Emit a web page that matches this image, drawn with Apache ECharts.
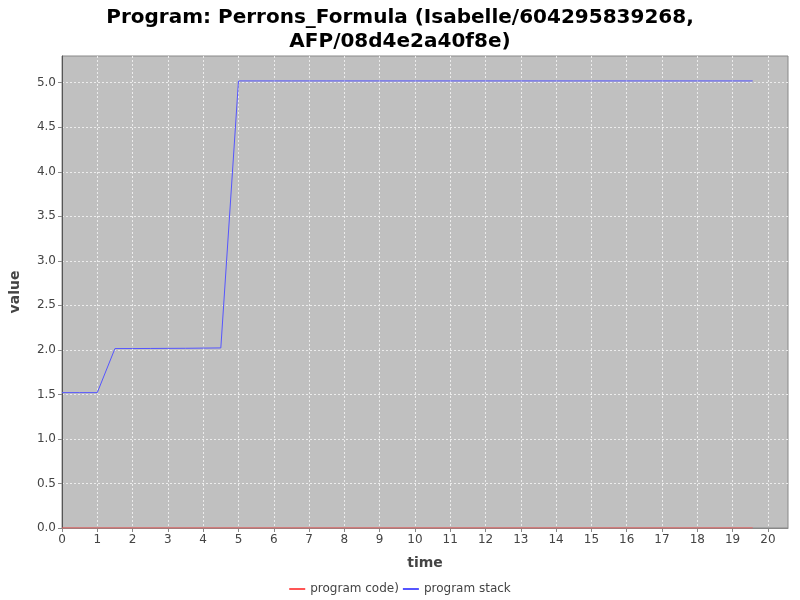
<!DOCTYPE html>
<html>
<head>
<meta charset="utf-8">
<script src="https://cdn.jsdelivr.net/npm/echarts@6/dist/echarts.min.js"></script>
<style>
  html, body { margin: 0; padding: 0; background: #fff; }
  #chart { width: 800px; height: 600px; }
</style>
</head>
<body>
<div id="chart"></div>
<script>
// sample times (s)
var times = [0, 0.5, 1, 1.5, 2, 2.5, 3, 3.5, 4, 4.5, 5, 5.5, 6, 6.5, 7, 7.5, 8, 8.5, 9, 9.5,
  10, 10.5, 11, 11.5, 12, 12.5, 13, 13.5, 14, 14.5, 15, 15.5, 16, 16.5, 17, 17.5, 18, 18.5, 19, 19.57];
var programCode = [0, 0, 0, 0, 0, 0, 0, 0, 0, 0, 0, 0, 0, 0, 0, 0, 0, 0, 0, 0,
  0, 0, 0, 0, 0, 0, 0, 0, 0, 0, 0, 0, 0, 0, 0, 0, 0, 0, 0, 0];
var programStack = [1.52, 1.52, 1.52, 2.015, 2.015, 2.016, 2.017, 2.018, 2.02, 2.022,
  5.02, 5.02, 5.02, 5.02, 5.02, 5.02, 5.02, 5.02, 5.02, 5.02,
  5.02, 5.02, 5.02, 5.02, 5.02, 5.02, 5.02, 5.02, 5.02, 5.02,
  5.02, 5.02, 5.02, 5.02, 5.02, 5.02, 5.02, 5.02, 5.02, 5.02];

function pairs(xs, ys) {
  return xs.map(function (x, i) { return [x, ys[i]]; });
}

var gridLine = { color: '#ececec', type: [2, 2], width: 1 };

var chart = echarts.init(document.getElementById('chart'));
var option = {
  animation: false,
  title: {
    text: 'Program: Perrons_Formula (Isabelle/604295839268,\nAFP/08d4e2a40f8e)',
    left: 'center',
    top: 1,
    textStyle: {
      fontFamily: 'DejaVu Sans',
      fontSize: 20,
      fontWeight: 'bold',
      color: '#000',
      lineHeight: 24
    }
  },
  legend: {
    bottom: 0,
    left: 'center',
    itemWidth: 16,
    itemHeight: 2,
    itemGap: 4,
    icon: 'rect',
    textStyle: { fontFamily: 'DejaVu Sans', fontSize: 12, color: '#444' },
    data: ['program code)', 'program stack']
  },
  grid: {
    left: 62,
    right: 12,
    top: 56,
    bottom: 72,
    show: true,
    backgroundColor: '#c0c0c0',
    borderColor: '#888',
    borderWidth: 1
  },
  xAxis: {
    type: 'value',
    name: 'time',
    nameLocation: 'middle',
    nameGap: 28,
    nameTextStyle: { fontFamily: 'DejaVu Sans', fontSize: 14, fontWeight: 'bold', color: '#444' },
    min: 0,
    max: 20.57,
    interval: 1,
    axisLine: { show: true, onZero: false, lineStyle: { color: '#888' } },
    axisTick: { show: true, length: 4, lineStyle: { color: '#888' } },
    axisLabel: { showMaxLabel: false, fontFamily: 'DejaVu Sans', fontSize: 12, color: '#444', margin: 6 },
    splitLine: { show: true, showMinLine: false, showMaxLine: false, lineStyle: gridLine }
  },
  yAxis: {
    type: 'value',
    name: 'value',
    nameLocation: 'middle',
    nameGap: 40,
    nameTextStyle: { fontFamily: 'DejaVu Sans', fontSize: 14, fontWeight: 'bold', color: '#444' },
    min: 0,
    max: 5.3,
    interval: 0.5,
    axisLine: { show: true, lineStyle: { color: '#555' } },
    axisTick: { show: true, length: 4, lineStyle: { color: '#888' } },
    axisLabel: {
      showMaxLabel: false,
      fontFamily: 'DejaVu Sans',
      fontSize: 12,
      color: '#444',
      margin: 6,
      formatter: function (v) { return v.toFixed(1); }
    },
    splitLine: { show: true, showMinLine: false, showMaxLine: false, lineStyle: gridLine }
  },
  series: [
    {
      name: 'program code)',
      type: 'line',
      data: pairs(times, programCode),
      showSymbol: false,
      color: '#ff5555',
      lineStyle: { width: 1, color: '#ff5555' }
    },
    {
      name: 'program stack',
      type: 'line',
      data: pairs(times, programStack),
      showSymbol: false,
      color: '#5555ff',
      lineStyle: { width: 1, color: '#5555ff' }
    }
  ]
};
option && chart.setOption(option);
</script>
</body>
</html>
